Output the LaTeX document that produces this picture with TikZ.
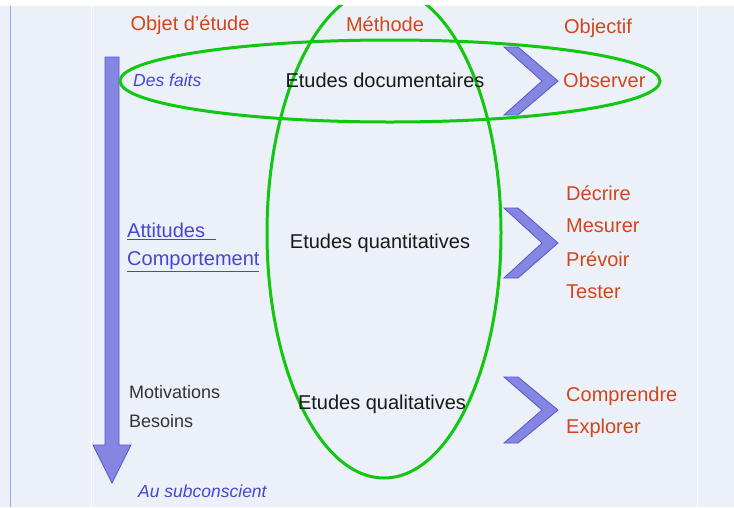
\documentclass[tikz,border=0pt]{standalone}
\usepackage{fontspec}
\setmainfont{Liberation Sans}
\definecolor{bg}{HTML}{ECF0F8}
\definecolor{orangered}{HTML}{D2461A}
\definecolor{bluetxt}{HTML}{4646D2}
\definecolor{greenline}{HTML}{10C810}
\definecolor{chevfill}{HTML}{8585E2}
\definecolor{chevdraw}{HTML}{5555D5}
\definecolor{leftline}{HTML}{94AADC}
\tikzset{
  head/.style={text=orangered, font=\fontsize{20}{22}\selectfont, inner sep=0pt},
  obj/.style={text=orangered, font=\fontsize{20}{22}\selectfont, inner sep=0pt, anchor=west},
  etude/.style={text=black!90, font=\fontsize{20}{22}\selectfont, inner sep=0pt},
  blueit/.style={text=bluetxt, font=\fontsize{17.5}{20}\selectfont\itshape, inner sep=0pt, anchor=west},
  bluelink/.style={text=bluetxt, font=\fontsize{20}{22}\selectfont, inner sep=0pt, anchor=west},
  graytxt/.style={text=black!80, font=\fontsize{18}{20}\selectfont, inner sep=0pt, anchor=west},
  chevron/.style={fill=chevfill, draw=chevdraw, line width=0.8pt},
  greenell/.style={draw=greenline, line width=3pt},
}
\begin{document}
\begin{tikzpicture}[x=1pt,y=-1pt]
\useasboundingbox (0,0) rectangle (734,507);
\fill[white] (0,0) rectangle (734,507);
\fill[bg] (0,6) rectangle (734,507);
\draw[leftline, line width=1.5pt] (10.5,6) -- (10.5,507);
\draw[white, line width=1.2pt] (91.5,6) -- (91.5,507);
\draw[white, line width=1.2pt] (697.5,6) -- (697.5,507);

% down arrow
\fill[chevfill, draw=chevdraw, line width=0.8pt] (105,57) -- (119,57) -- (119,445) -- (131,445) -- (112,483) -- (93,445) -- (105,445) -- cycle;

% headers
\node[head] (hobj) at (190,25) {Objet d’étude};
\node[head] (hmeth) at (385,24) {Méthode};
\node[head] (hobjf) at (598,28) {Objectif};

% ellipses
\draw[greenell] (384,233) ellipse [x radius=117, y radius=245];
\draw[greenell] (390,81) ellipse [x radius=270, y radius=41];
\fill[white] (0,0) rectangle (734,5);

% studies
\node[etude] (doc) at (385,80) {Etudes documentaires};
\node[etude] (quant) at (380,243) {Etudes quantitatives};
\node[etude] (qual) at (382,404) {Etudes qualitatives};

% left column
\node[blueit] (faits) at (133,80) {Des faits};
\node[bluelink] (att) at (127,231) {\underline{Attitudes\ \ }};
\node[bluelink] (comp) at (127,262) {\underline{Comportement}};
\node[graytxt] (motiv) at (129,392) {Motivations};
\node[graytxt] (besoins) at (129,421) {Besoins};
\node[blueit] (subc) at (138,491) {Au subconscient};

% chevrons
\foreach \cy/\h in {81/34, 243/35, 410/33} {
  \filldraw[chevron] (504,\cy-\h) -- (518,\cy-\h) -- (558,\cy) -- (518,\cy+\h) -- (504,\cy+\h) -- (542,\cy) -- cycle;
}

% objectives
\node[obj] (obs) at (563,80) {Observer};
\node[obj] (dec) at (566,193) {Décrire};
\node[obj] (mes) at (566,226) {Mesurer};
\node[obj] (prev) at (566,259) {Prévoir};
\node[obj] (test) at (566,292) {Tester};
\node[obj] (compr) at (566,396) {Comprendre};
\node[obj] (expl) at (566,428) {Explorer};
\end{tikzpicture}
\end{document}
